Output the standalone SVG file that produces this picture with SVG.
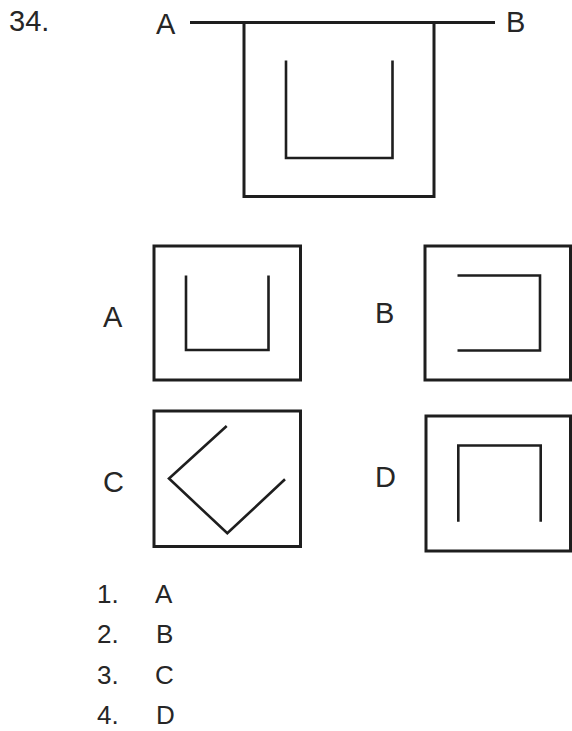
<svg xmlns="http://www.w3.org/2000/svg" width="572" height="731" viewBox="0 0 572 731">
<style>
.ln{fill:none;stroke:#1e1e1e;stroke-width:3;stroke-linecap:butt;stroke-linejoin:miter}
.in{fill:none;stroke:#1e1e1e;stroke-width:2.6;stroke-linejoin:miter}
.t{font-family:"Liberation Sans",Arial,Helvetica,sans-serif;fill:#262626}
.big{font-size:29px}
.lbl{font-size:29px}
.opt{font-size:26px}
</style>
<rect x="0" y="0" width="572" height="731" fill="#ffffff"/>
<g id="question">
  <text class="t big" x="9" y="31" font-size="27">34.</text>
  <text class="t big" x="156" y="34">A</text>
  <text class="t big" x="506" y="32">B</text>
  <line class="ln" x1="190" y1="22.5" x2="495" y2="22.5"/>
  <path class="ln" d="M244,22.5 V196.5 H434 V22.5"/>
  <path class="in" d="M286,60.5 V158 H392.5 V60.5"/>
</g>
<g id="optionA">
  <text class="t lbl" x="103" y="327">A</text>
  <rect class="ln" x="154" y="246" width="146.5" height="134"/>
  <path class="in" d="M186,275.5 V350 H268.5 V275.5"/>
</g>
<g id="optionB">
  <text class="t lbl" x="375" y="323">B</text>
  <rect class="ln" x="425" y="246" width="145.5" height="134"/>
  <path class="in" d="M457.5,275.5 H540 V350.5 H457.5"/>
</g>
<g id="optionC">
  <text class="t lbl" x="103" y="492">C</text>
  <rect class="ln" x="154" y="411" width="146.5" height="135.5"/>
  <path class="in" d="M226.7,426 L169,478.5 L227.3,533.3 L285,479.3"/>
</g>
<g id="optionD">
  <text class="t lbl" x="375" y="487">D</text>
  <rect class="ln" x="426" y="416" width="144.5" height="135"/>
  <path class="in" d="M458.3,521.7 V445.5 H540.7 V521.7"/>
</g>
<g id="answers">
  <text class="t opt" x="97" y="603">1.</text>
  <text class="t opt" x="155" y="603">A</text>
  <text class="t opt" x="97" y="643">2.</text>
  <text class="t opt" x="156" y="643">B</text>
  <text class="t opt" x="97" y="684">3.</text>
  <text class="t opt" x="155" y="684">C</text>
  <text class="t opt" x="97" y="724">4.</text>
  <text class="t opt" x="156" y="724">D</text>
</g>
<g id="connectors"></g>
</svg>
